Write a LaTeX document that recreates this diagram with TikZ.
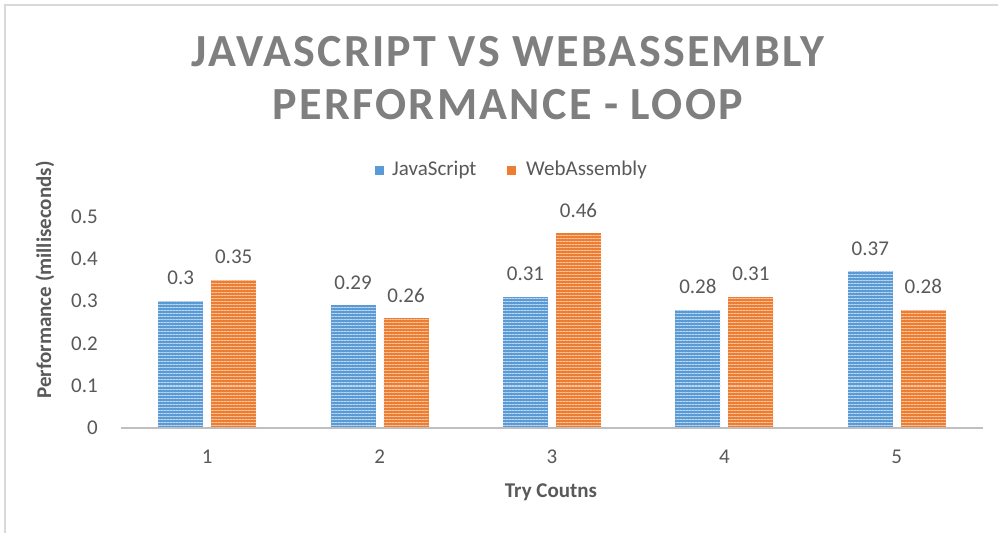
\documentclass[tikz,border=0pt]{standalone}
\usepackage{fontspec}
\setmainfont{Carlito}
\usetikzlibrary{patterns.meta}
\definecolor{jsblue}{HTML}{5B9BD5}
\definecolor{waorange}{HTML}{ED7D31}
\definecolor{txtgray}{HTML}{595959}
\definecolor{titlegray}{HTML}{7F7F7F}
\definecolor{axisgray}{HTML}{BFBFBF}
\definecolor{framegray}{HTML}{D9D9D9}
\tikzset{
  titletext/.style={text=titlegray, inner sep=0pt, font=\fontsize{46}{50}\selectfont\bfseries\addfontfeatures{LetterSpace=5}},
  smalltext/.style={text=txtgray, inner sep=0pt, font=\fontsize{21}{24}\selectfont},
  axtitle/.style={text=txtgray, inner sep=0pt, font=\fontsize{21}{24}\selectfont\bfseries},
  jsbar/.style={fill=jsblue},
  wabar/.style={fill=waorange},
  jsstripe/.style={pattern={Lines[angle=0,distance=3pt,line width=1pt]}, pattern color=jsblue!40!white},
  wastripe/.style={pattern={Lines[angle=0,distance=3pt,line width=1pt]}, pattern color=waorange!45!white},
  legsq/.style={inner sep=0pt, minimum size=9pt, draw=none}
}
\begin{document}
\begin{tikzpicture}[x=1pt,y=-1pt]
\useasboundingbox (0,0) rectangle (998,533);
\fill[white] (0,0) rectangle (998,533);
\draw[framegray, line width=1.5pt] (5,533) -- (5,5) -- (998,5);

\node[titletext] (t1) at (508,52) {JAVASCRIPT VS WEBASSEMBLY};
\node[titletext] (t2) at (508,105) {PERFORMANCE - LOOP};

\node[legsq, fill=jsblue] (lj) at (379.5,170.5) {};
\node[smalltext, anchor=west] (ljt) at (392,170) {JavaScript};
\node[legsq, fill=waorange] (lw) at (511.5,170.5) {};
\node[smalltext, anchor=west] (lwt) at (526,170) {WebAssembly};

\foreach \v/\n in {0/0,0.1/1,0.2/2,0.3/3,0.4/4,0.5/5}{
  \node[smalltext, anchor=east] (yl\n) at (98,{428-423*\v}) {\v};
}

\foreach \i/\a/\b in {1/0.3/0.35,2/0.29/0.26,3/0.31/0.46,4/0.28/0.31,5/0.37/0.28}{
  \pgfmathsetmacro\c{121+(\i-0.5)*172.4}
  \fill[jsbar] (\c-49,428) rectangle (\c-4,{428-423*\a});
  \fill[jsstripe] (\c-49,428) rectangle (\c-4,{428-423*\a});
  \fill[wabar] (\c+4,428) rectangle (\c+49,{428-423*\b});
  \fill[wastripe] (\c+4,428) rectangle (\c+49,{428-423*\b});
  \node[smalltext] (ja\i) at (\c-26.5,{428-423*\a-23}) {\a};
  \node[smalltext] (wa\i) at (\c+26.5,{428-423*\b-23}) {\b};
  \node[smalltext] (xl\i) at (\c,457) {\i};
}

\coordinate (axL) at (121,428);
\coordinate (axR) at (983,428);
\draw[axisgray, line width=2pt] (axL) -- (axR);

\node[axtitle, rotate=90] (yt) at (45,280) {Performance (milliseconds)};
\node[axtitle] (xt) at (551,492) {Try Coutns};
\end{tikzpicture}
\end{document}
